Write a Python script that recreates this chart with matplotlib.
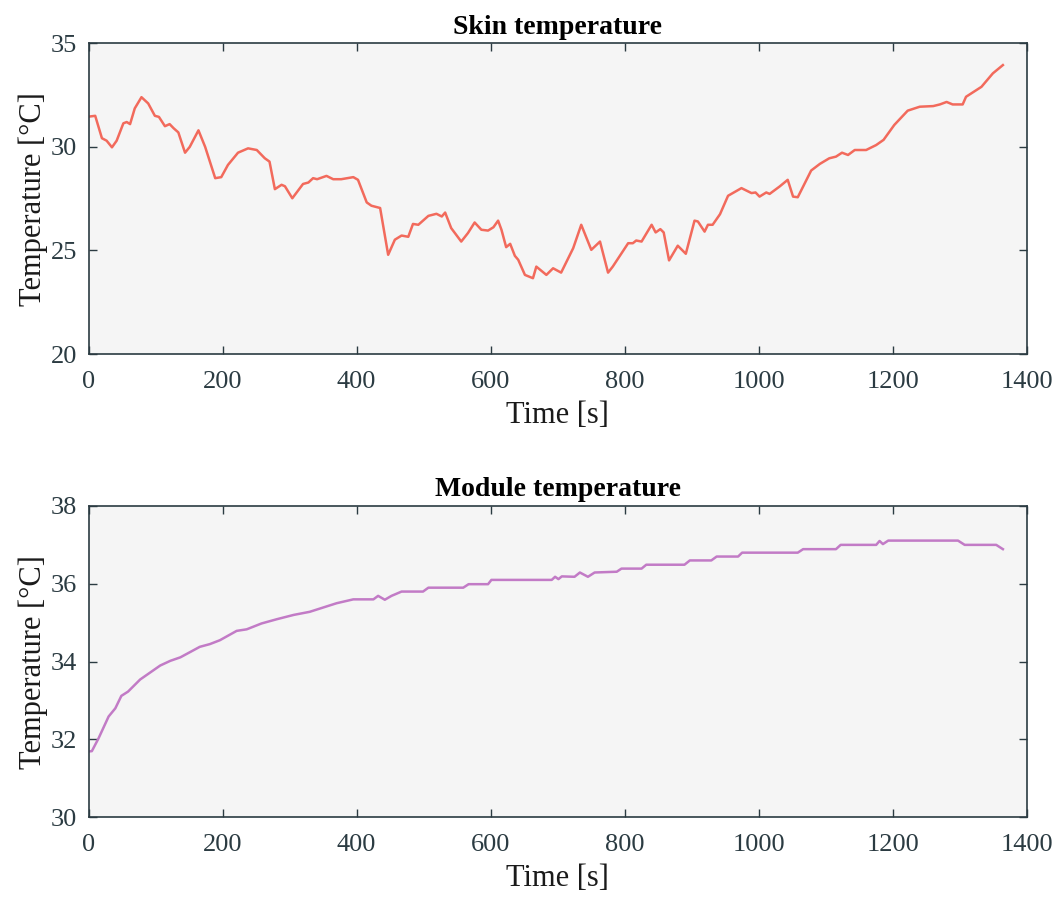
import numpy as np
import matplotlib
matplotlib.use('Agg')
import matplotlib.pyplot as plt

# Datos
skin_t = [0, 10, 20, 27, 35, 42, 52, 57, 62, 69, 79, 89, 99, 105, 114, 121, 127, 134,
          144, 151, 164, 174, 189, 198, 208, 223, 238, 251, 263, 270, 278, 288, 293,
          304, 320, 328, 335, 341, 355, 365, 377, 395, 402, 415, 422, 435, 447, 457,
          467, 477, 484, 492, 507, 519, 527, 532, 541, 556, 566, 576, 586, 596, 604,
          611, 616, 623, 629, 636, 641, 651, 663, 668, 683, 693, 705, 723, 735, 750,
          763, 775, 782, 805, 812, 817, 825, 840, 846, 853, 858, 866, 879, 891, 904,
          909, 919, 924, 931, 942, 954, 974, 989, 995, 1001, 1011, 1016, 1031, 1043,
          1051, 1058, 1066, 1078, 1091, 1105, 1115, 1124, 1133, 1143, 1160, 1175,
          1186, 1202, 1222, 1240, 1260, 1270, 1280, 1289, 1304, 1309, 1332, 1349, 1364]
skin_T = [31.46, 31.5, 30.42, 30.3, 29.98, 30.3, 31.14, 31.2, 31.1, 31.86, 32.4, 32.1,
          31.5, 31.45, 31.0, 31.1, 30.9, 30.7, 29.72, 30.0, 30.8, 30.0, 28.49, 28.54,
          29.13, 29.72, 29.93, 29.85, 29.45, 29.29, 27.96, 28.17, 28.1, 27.52, 28.21,
          28.28, 28.49, 28.44, 28.6, 28.44, 28.44, 28.54, 28.41, 27.32, 27.16, 27.05,
          24.79, 25.52, 25.72, 25.66, 26.28, 26.24, 26.67, 26.77, 26.64, 26.83, 26.08,
          25.43, 25.84, 26.35, 26.0, 25.96, 26.12, 26.44, 26.0, 25.16, 25.32, 24.74,
          24.55, 23.82, 23.66, 24.22, 23.82, 24.14, 23.93, 25.11, 26.24, 25.03, 25.43,
          23.93, 24.22, 25.35, 25.35, 25.48, 25.43, 26.24, 25.87, 26.03, 25.87, 24.52,
          25.23, 24.84, 26.44, 26.4, 25.91, 26.24, 26.24, 26.75, 27.64, 28.01, 27.77,
          27.8, 27.6, 27.8, 27.73, 28.09, 28.41, 27.6, 27.57, 28.09, 28.86, 29.18,
          29.45, 29.53, 29.72, 29.61, 29.85, 29.85, 30.09, 30.34, 31.06, 31.75, 31.94,
          31.97, 32.05, 32.17, 32.05, 32.05, 32.42, 32.9, 33.55, 33.95]

mod_t = [0, 5, 15, 30, 40, 49, 59, 77, 92, 107, 122, 137, 151, 166, 181, 196, 221,
         236, 258, 281, 306, 330, 350, 370, 395, 425, 432, 442, 452, 467, 499, 507,
         559, 567, 596, 601, 691, 696, 701, 706, 725, 733, 745, 755, 788, 795, 825,
         832, 889, 897, 929, 937, 969, 975, 1058, 1066, 1115, 1122, 1175, 1180, 1185,
         1193, 1297, 1307, 1354, 1364]
mod_T = [31.69, 31.7, 32.03, 32.59, 32.8, 33.12, 33.23, 33.54, 33.72, 33.9, 34.02,
         34.11, 34.24, 34.38, 34.45, 34.55, 34.79, 34.83, 34.98, 35.09, 35.2, 35.28,
         35.39, 35.5, 35.6, 35.6, 35.69, 35.59, 35.69, 35.8, 35.8, 35.9, 35.9, 35.99,
         35.99, 36.1, 36.1, 36.18, 36.12, 36.19, 36.18, 36.29, 36.18, 36.29, 36.31,
         36.39, 36.39, 36.49, 36.49, 36.6, 36.6, 36.7, 36.7, 36.8, 36.8, 36.89, 36.89,
         37.0, 37.0, 37.1, 37.02, 37.11, 37.11, 37.0, 37.0, 36.89]

plt.rcParams['font.family'] = ['Liberation Serif', 'DejaVu Serif']

COLOR_EJE = '#2b3b42'
fig = plt.figure(figsize=(10.6, 8.99), dpi=100)
ax1 = fig.add_axes([0.0835, 0.6062, 0.8854, 0.3456])
ax2 = fig.add_axes([0.0835, 0.0909, 0.8854, 0.3463])

paneles = [
    (ax1, skin_t, skin_T, '#f26a5c', 'Skin temperature', (20, 35), [20, 25, 30, 35]),
    (ax2, mod_t, mod_T, '#c27bc6', 'Module temperature', (30, 38), [30, 32, 34, 36, 38]),
]

for ax, t, T, color, titulo, ylim, yticks in paneles:
    ax.set_facecolor('#f5f5f5')
    ax.plot(t, T, color=color, lw=1.8)
    ax.set_xlim(0, 1400)
    ax.set_ylim(*ylim)
    ax.set_xticks(np.arange(0, 1401, 200))
    ax.set_yticks(yticks)
    ax.set_title(titulo, fontsize=20, fontweight='bold', pad=7)
    ax.set_xlabel('Time [s]', fontsize=22, color='#1a1a1a', labelpad=6)
    ax.set_ylabel('Temperature [°C]', fontsize=22, color='#1a1a1a', labelpad=2)
    ax.tick_params(direction='in', top=True, right=True, length=6, width=1,
                   labelsize=19, colors=COLOR_EJE)
    ax.tick_params(axis='x', pad=12)
    ax.tick_params(axis='y', pad=8)
    for s in ax.spines.values():
        s.set_color(COLOR_EJE)
        s.set_linewidth(1.2)

fig.savefig('out.png', dpi=100)
